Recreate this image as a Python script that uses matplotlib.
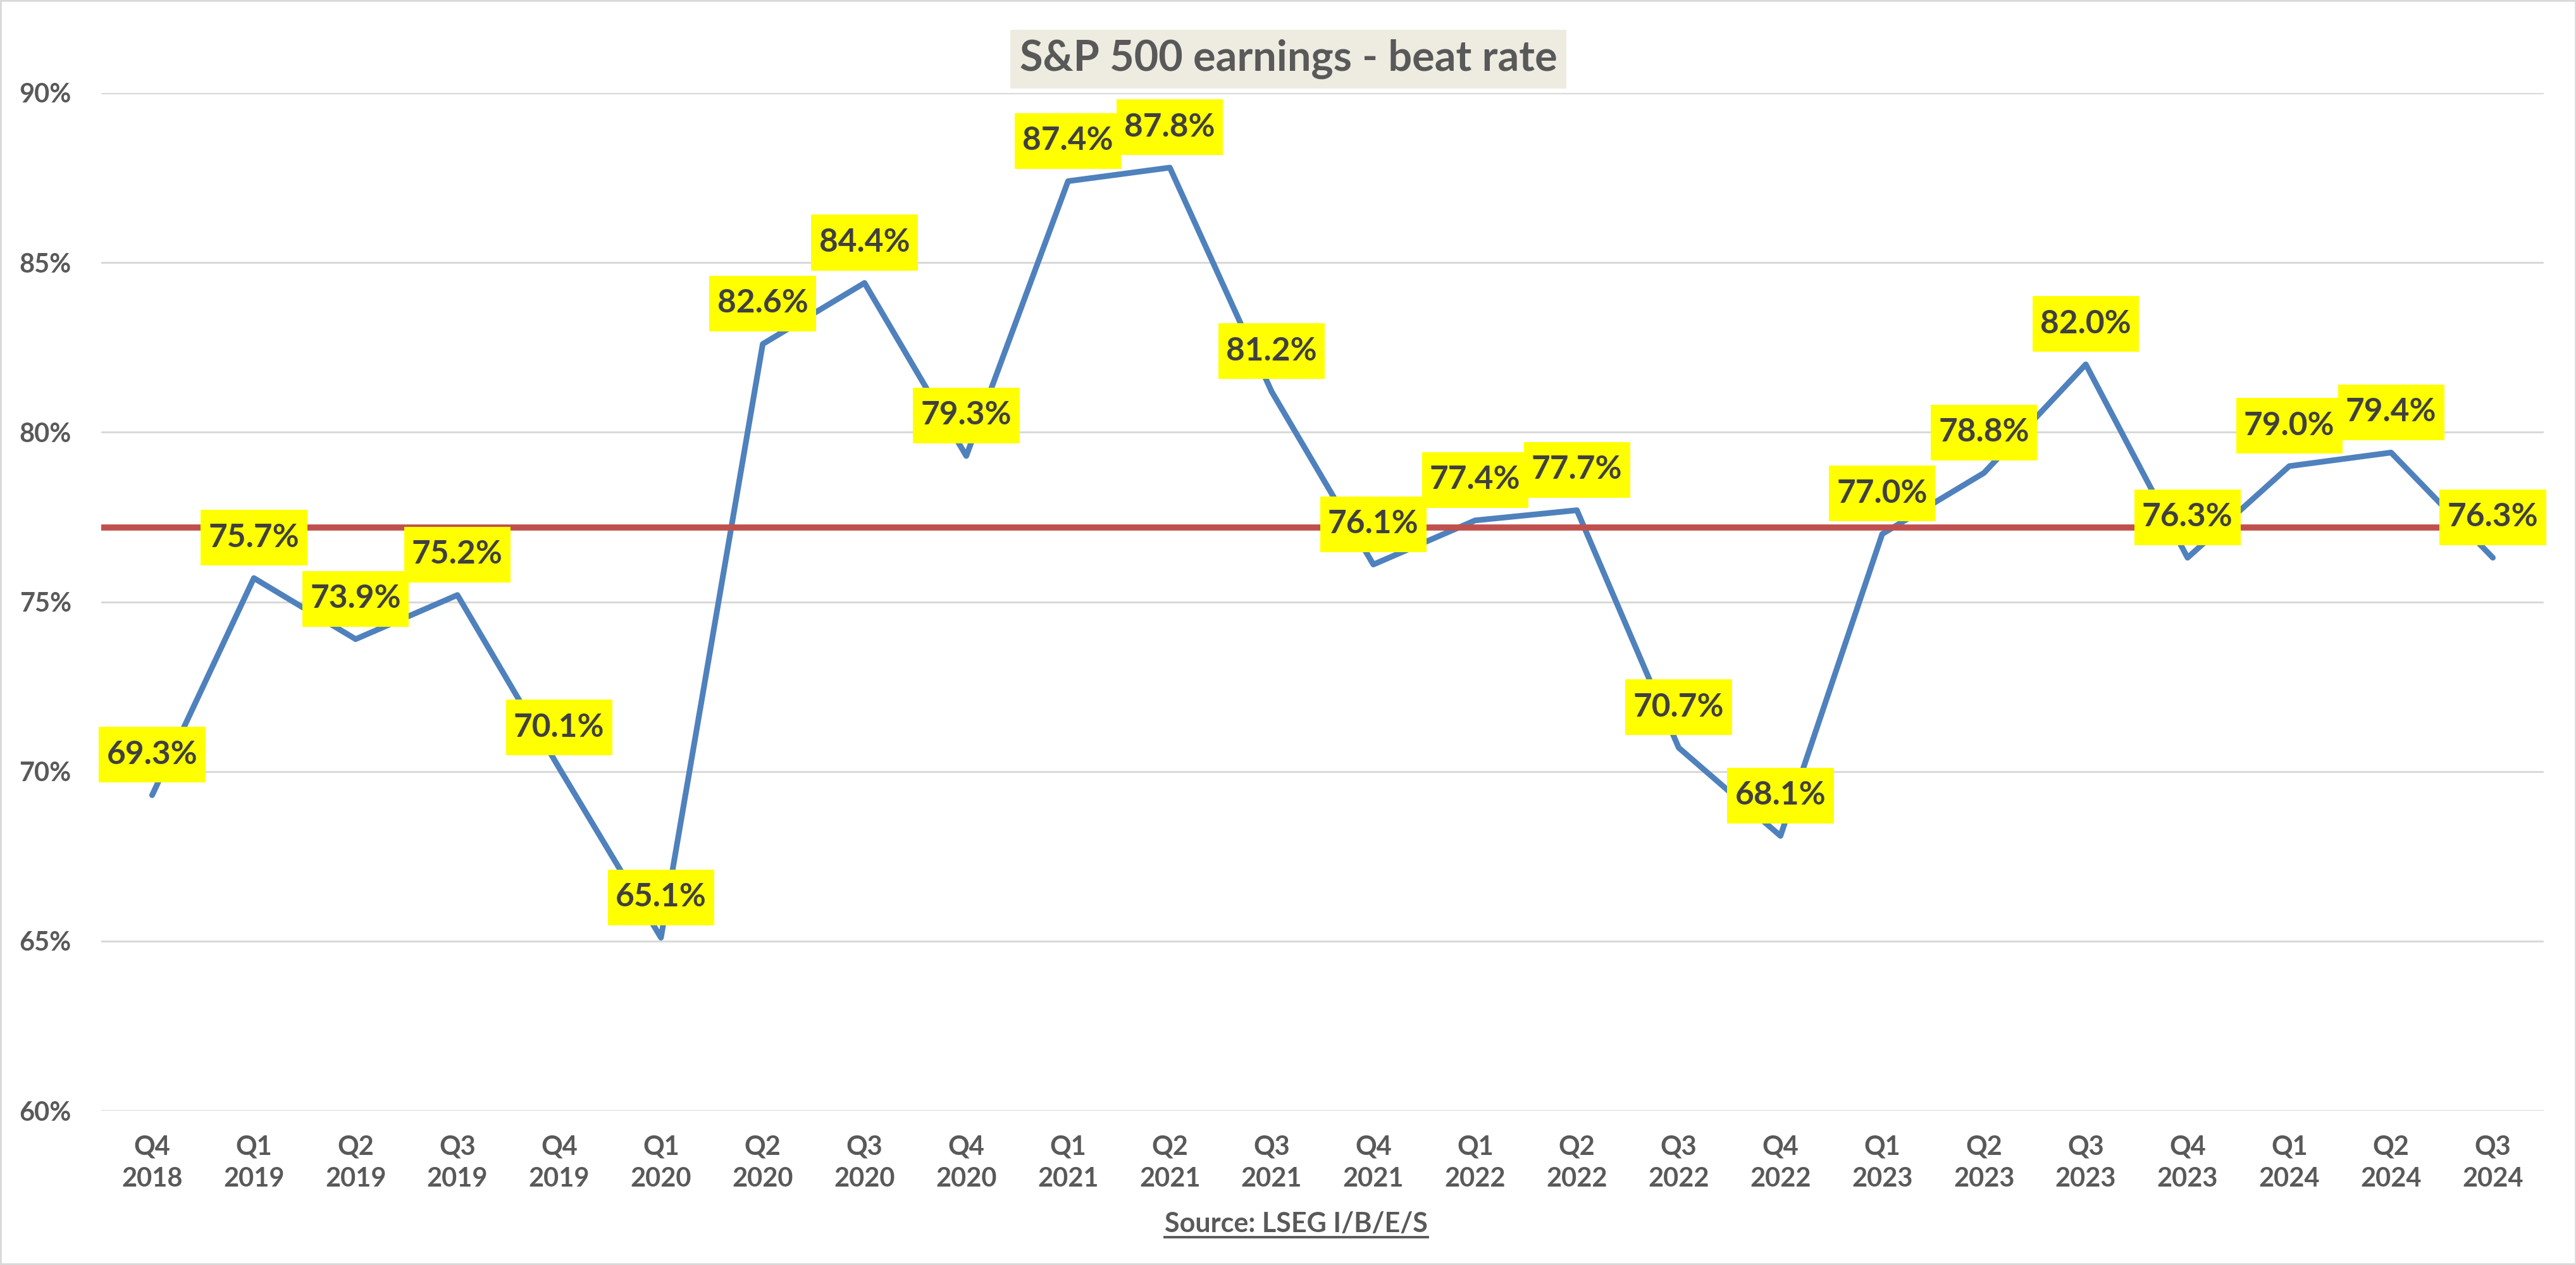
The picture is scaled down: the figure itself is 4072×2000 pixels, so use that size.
import matplotlib
import matplotlib.pyplot as plt
from matplotlib.lines import Line2D
from matplotlib.patches import Rectangle
from matplotlib.path import Path

# Headless backend, no window
matplotlib.use("Agg")

plt.rcParams["font.family"] = ["Lato", "DejaVu Sans"]

# Data
quarters = [
    "Q4\n2018", "Q1\n2019", "Q2\n2019", "Q3\n2019", "Q4\n2019", "Q1\n2020",
    "Q2\n2020", "Q3\n2020", "Q4\n2020", "Q1\n2021", "Q2\n2021", "Q3\n2021",
    "Q4\n2021", "Q1\n2022", "Q2\n2022", "Q3\n2022", "Q4\n2022", "Q1\n2023",
    "Q2\n2023", "Q3\n2023", "Q4\n2023", "Q1\n2024", "Q2\n2024", "Q3\n2024",
]
beat_rate = [
    69.3, 75.7, 73.9, 75.2, 70.1, 65.1, 82.6, 84.4, 79.3, 87.4, 87.8, 81.2,
    76.1, 77.4, 77.7, 70.7, 68.1, 77.0, 78.8, 82.0, 76.3, 79.0, 79.4, 76.3,
]
avg_beat_rate = 77.2
y_ticks = [60, 65, 70, 75, 80, 85, 90]

TEXT_GREY = "#595959"
LABEL_GREY = "#404040"
GRID_GREY = "#D9D9D9"
BLUE = "#4F81BD"
RED = "#C0504D"
YELLOW = "#FFFF00"


def label_box(x0, y0, width, height, mutation_size):
    """Rectangle with more padding top/bottom than left/right (Excel label look)."""
    px = 0.24 * mutation_size
    py = 0.40 * mutation_size
    x0, y0 = x0 - px, y0 - py
    x1, y1 = x0 + width + 2 * px, y0 + height + 2 * py
    return Path([(x0, y0), (x1, y0), (x1, y1), (x0, y1), (x0, y0)], closed=True)


W, H = 4073, 2000
fig = plt.figure(figsize=(W / 100, H / 100), dpi=100)
ax = fig.add_axes([160 / W, 244 / H, (4021 - 160) / W, (1756 - 147) / H])

x = list(range(len(quarters)))
ax.plot(x, beat_rate, color=BLUE, linewidth=6.5, solid_joinstyle="round",
        solid_capstyle="round", zorder=3)
ax.axhline(avg_beat_rate, color=RED, linewidth=7, zorder=4)

# Data labels above each point, like Excel's "Above" placement
for xi, v in zip(x, beat_rate):
    ax.annotate(f"{v:.1f}%", (xi, v), xytext=(0, 46), textcoords="offset points",
                ha="center", va="center", fontsize=37, fontweight="bold",
                color=LABEL_GREY, zorder=5,
                bbox=dict(boxstyle=label_box, fc=YELLOW, ec="none"))

ax.set_xlim(-0.5, len(quarters) - 0.5)
ax.set_ylim(60, 90)
ax.set_yticks(y_ticks)
ax.set_yticklabels([f"{t}%" for t in y_ticks])
ax.set_xticks(x)
ax.set_xticklabels(quarters, linespacing=1.38)
ax.tick_params(axis="y", length=0, pad=34, labelsize=30, labelcolor=TEXT_GREY)
ax.tick_params(axis="x", length=0, pad=28, labelsize=30, labelcolor=TEXT_GREY)
for lbl in ax.get_xticklabels() + ax.get_yticklabels():
    lbl.set_fontweight("bold")

ax.grid(axis="y", color=GRID_GREY, linewidth=2.2, zorder=0)
ax.set_axisbelow(True)
for s in ax.spines.values():
    s.set_visible(False)

# Title in a tan box, and source line, both underlined
title = fig.text(0.5, 1 - 112 / H, "S&P 500 earnings - beat rate", ha="center",
                 va="baseline", fontsize=48, fontweight="bold", color=TEXT_GREY,
                 bbox=dict(boxstyle="square,pad=0.22", fc="#EEECE1", ec="none"))
source = fig.text(0.503, 52 / H, "Source: LSEG I/B/E/S", ha="center",
                  va="baseline", fontsize=31, fontweight="bold", color=TEXT_GREY)

fig.canvas.draw()
renderer = fig.canvas.get_renderer()
for txt, gap, lw in [(title, 10, 3.6), (source, 8, 2.8)]:
    bb = txt.get_window_extent(renderer)
    _, y0 = txt.get_transform().transform(txt.get_position())
    fig.add_artist(Line2D([bb.x0, bb.x1], [y0 - gap, y0 - gap], color=TEXT_GREY,
                          linewidth=lw, transform=None))

# Light grey frame round the whole chart
fig.add_artist(Rectangle((0, 0), 1, 1, transform=fig.transFigure, fill=False,
                         edgecolor=GRID_GREY, linewidth=4))

fig.savefig("out.png", dpi=100, facecolor="white")
plt.close(fig)
